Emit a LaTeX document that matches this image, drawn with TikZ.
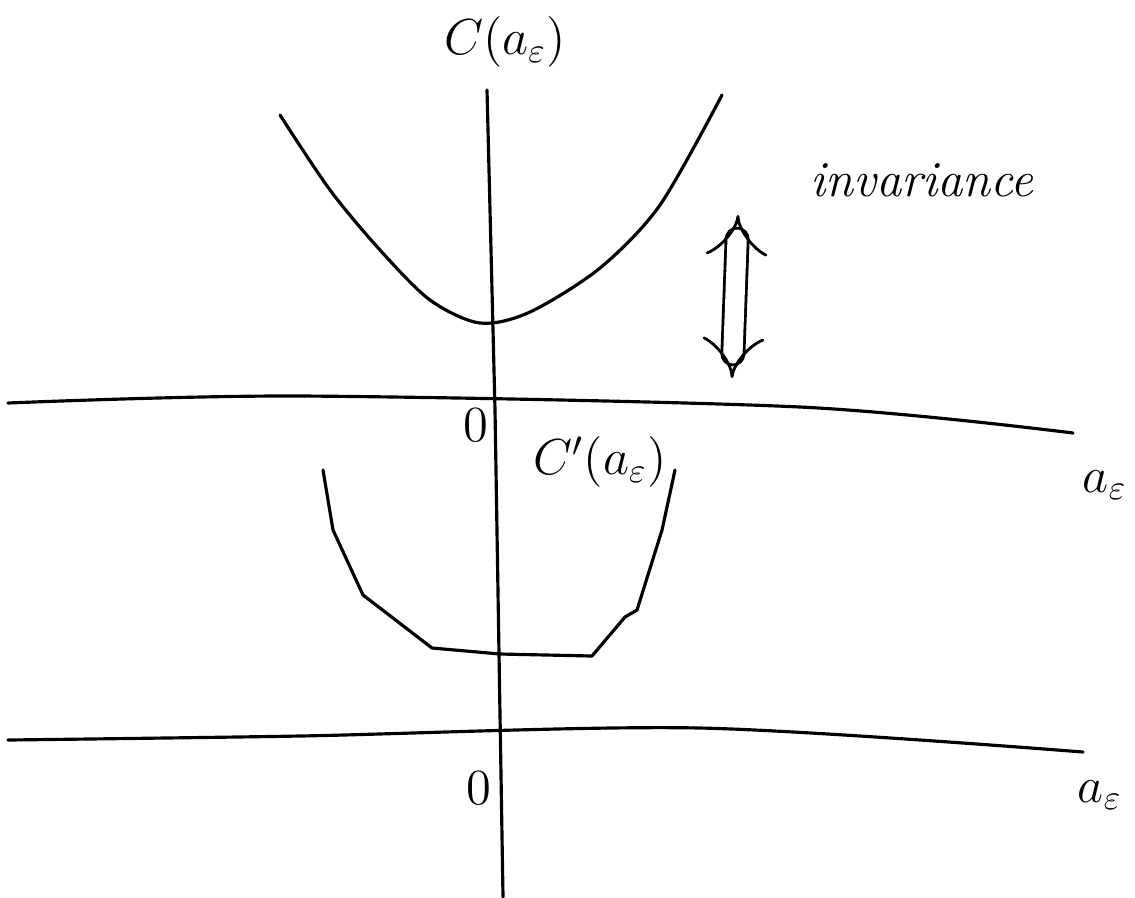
\documentclass[tikz,border=0pt]{standalone}
\usepackage{amsmath,amssymb}
\usepackage{tikz}
\usetikzlibrary{arrows.meta}

\begin{document}
\begin{tikzpicture}[x=1cm, y=-1cm, line width=0.9pt, line cap=round, line join=round,
  every node/.style={font=\Large}]
\useasboundingbox (0,0) rectangle (11.35,8.97);
% vertical axis
\draw (4.87,0.90) -- (4.95,4.10) -- (5.03,8.97);
% upper axis
\draw plot[smooth] coordinates {(0.08,4.03) (3.0,3.96) (8.0,4.07) (10.73,4.33)};
\node (zeroA) at (4.76,4.25) {$0$};
\node (xA) at (11.05,4.85) {$a_\varepsilon$};
\node (yA) at (5.05,0.42) {$C(a_\varepsilon)$};
% upper curve
\draw plot[smooth] coordinates {(2.80,1.15) (3.30,1.90) (3.80,2.50) (4.30,3.00)
  (4.80,3.23) (5.30,3.12) (6.00,2.68) (6.60,2.05) (7.22,0.95)};
% invariance
\draw[double, double distance=5.5pt, line width=0.8pt, {Implies}-{Implies}]
  (7.32,3.78) -- (7.38,2.15);
\node (inv) at (9.22,1.80) {\itshape invariance};
% lower axis
\draw plot[smooth] coordinates {(0.08,7.40) (3.0,7.36) (7.0,7.28) (10.83,7.52)};
\node (zeroB) at (4.79,7.88) {$0$};
\node (xB) at (11.00,7.95) {$a_\varepsilon$};
\node (yB) at (6.00,4.62) {$C'(a_\varepsilon)$};
% lower curve
\draw (3.23,4.70) -- (3.33,5.30) -- (3.63,5.95) -- (4.32,6.48) -- (5.00,6.54)
  -- (5.92,6.56) -- (6.25,6.17) -- (6.37,6.10) -- (6.62,5.30) -- (6.75,4.70);
\end{tikzpicture}
\end{document}
